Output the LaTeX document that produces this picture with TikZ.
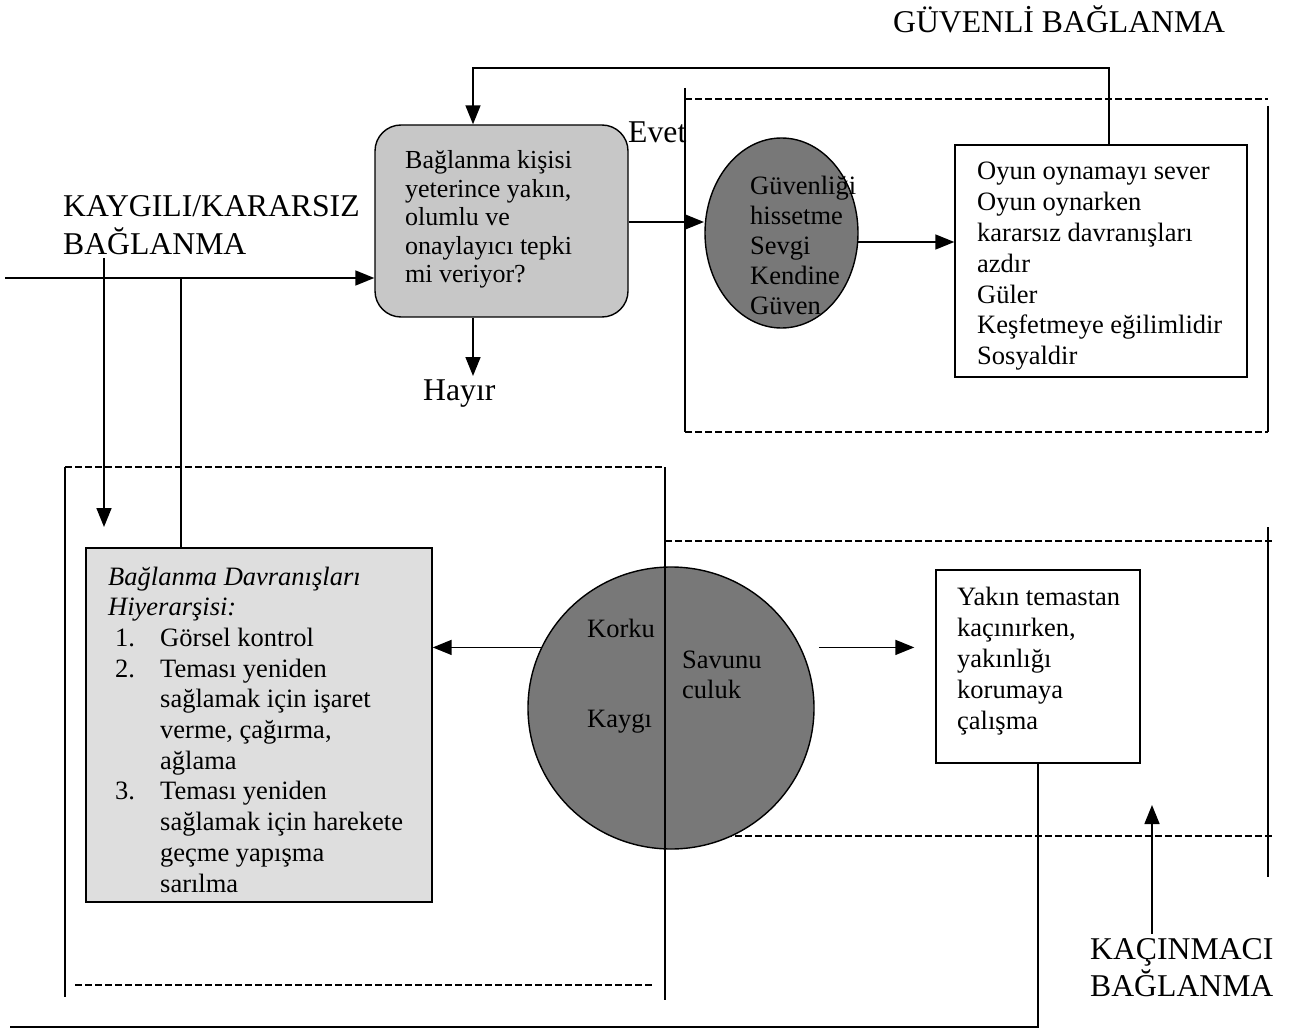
\documentclass[tikz,border=0pt]{standalone}
\usepackage{fontspec}
\setmainfont{Liberation Serif}
\usetikzlibrary{arrows.meta,shapes.geometric}
\definecolor{qfill}{gray}{0.78}
\definecolor{dfill}{gray}{0.87}
\definecolor{darkfill}{gray}{0.47}
\newcommand{\tl}[1]{\begin{tabular}[t]{@{}l@{}}#1\end{tabular}}
\begin{document}
\begin{tikzpicture}[x=1pt,y=-1pt,
  arr/.style={-{Triangle[length=19pt,width=15pt]}, line width=1.6pt},
  dsh/.style={dash pattern=on 7pt off 3pt, line width=1.8pt},
  sol/.style={line width=1.5pt},
  boxw/.style={draw, line width=1.4pt, fill=white, inner sep=0pt},
  lightbox/.style={draw, line width=1.4pt, inner sep=0pt},
  darkell/.style={draw, ellipse, line width=1.4pt, fill=darkfill, inner sep=0pt},
  body/.style={inner sep=0pt, anchor=base west, font=\fontsize{26.5}{30.8}\selectfont},
  lab/.style={inner sep=0pt, anchor=base west, font=\fontsize{31.7}{36}\selectfont},
]
\useasboundingbox (0,0) rectangle (1293,1032);
\fill[white] (0,0) rectangle (1293,1032);

% region frames
\draw[dsh] (685,99) -- (1268,99);
\draw[dsh] (685,432) -- (1268,432);
\draw[sol] (685,88) -- (685,432);
\draw[sol] (1268,106) -- (1268,432);
\draw[dsh] (65,467) -- (663,467);
\draw[dsh] (75,985) -- (655,985);
\draw[sol] (65,467) -- (65,997);
\draw[dsh] (665,541) -- (1275,541);
\draw[dsh] (665,836) -- (1275,836);
\draw[sol] (1268,527) -- (1268,877);

% shapes
\node[lightbox, fill=qfill, rounded corners=26pt, minimum width=253pt, minimum height=192pt] (Q) at (501.5,221) {};
\node[darkell, minimum width=153pt, minimum height=190pt] (E) at (781.5,233) {};
\node[boxw, minimum width=292pt, minimum height=232pt] (O) at (1101,261) {};
\node[lightbox, fill=dfill, minimum width=346pt, minimum height=354pt] (D) at (259,725) {};
\node[darkell, minimum width=286pt, minimum height=282pt] (C) at (671,708) {};
\node[boxw, minimum width=204pt, minimum height=193pt] (Y) at (1038,666.5) {};
\draw[sol] (665,467) -- (665,1000);

% texts
\node[body, font=\fontsize{26}{28.5}\selectfont] (Qt) at (405,169) {\tl{Bağlanma kişisi\\yeterince yakın,\\olumlu ve\\onaylayıcı tepki\\mi veriyor?}};
\node[body, font=\fontsize{26.5}{30}\selectfont] (Et) at (750,195) {\tl{Güvenliği\\hissetme\\Sevgi\\Kendine\\Güven}};
\node[body] (Ot) at (977,180) {\tl{Oyun oynamayı sever\\Oyun oynarken\\kararsız davranışları\\azdır\\Güler\\Keşfetmeye eğilimlidir\\Sosyaldir}};
\node[body, font=\fontsize{26.5}{30.7}\selectfont] (Dt) at (108,585) {\tl{\textit{Bağlanma Davranışları}\\
\textit{Hiyerarşisi:}\\
\hspace*{7pt}\makebox[45pt][l]{1.}Görsel kontrol\\
\hspace*{7pt}\makebox[45pt][l]{2.}Teması yeniden\\
\hspace*{52pt}sağlamak için işaret\\
\hspace*{52pt}verme, çağırma,\\
\hspace*{52pt}ağlama\\
\hspace*{7pt}\makebox[45pt][l]{3.}Teması yeniden\\
\hspace*{52pt}sağlamak için harekete\\
\hspace*{52pt}geçme yapışma\\
\hspace*{52pt}sarılma}};
\node[body] (Ck) at (587,637) {Korku};
\node[body] (Cy) at (587,727) {Kaygı};
\node[body, font=\fontsize{26.5}{30}\selectfont] (Cs) at (682,668) {\tl{Savunu\\culuk}};
\node[body, font=\fontsize{26.5}{31}\selectfont] (Yt) at (957,605) {\tl{Yakın temastan\\kaçınırken,\\yakınlığı\\korumaya\\çalışma}};

\node[lab] (tG) at (893,33) {GÜVENLİ BAĞLANMA};
\node[lab] (tK) at (63,217) {\tl{KAYGILI/KARARSIZ\\BAĞLANMA}};
\node[lab] (tE) at (628,143) {Evet};
\node[lab] (tH) at (423,400) {Hayır};
\node[lab] (tA) at (1090,959) {\tl{KAÇINMACI\\BAĞLANMA}};

% connectors
\coordinate (fbR) at (1109,68);
\coordinate (fbL) at (473,68);
\draw[arr] (fbR |- O.north) -- (fbR) -- (fbL) -- (fbL |- Q.north);
\coordinate (inL) at (5,278);
\draw[arr] (inL) -- (inL -| Q.west);
\coordinate (v1a) at (104,258);
\coordinate (v1b) at (104,527);
\draw[arr] (v1a) -- (v1b);
\coordinate (v2a) at (181,278);
\draw[sol] (v2a) -- (v2a |- D.north);
\coordinate (hy) at (473,376);
\draw[arr] (hy |- Q.south) -- (hy);
\coordinate (qe) at (704,222);
\draw[arr] (qe -| Q.east) -- (qe);
\coordinate (eo) at (858,242);
\draw[arr] (eo) -- (eo -| O.west);
\draw[arr] (C.155) -- (C.155 -| D.east);
\draw[arr, shorten <=18pt, shorten >=21pt] (C.25) -- (C.25 -| Y.west);
\coordinate (bl) at (10,1027);
\draw[line width=1.8pt] (Y.south) |- (bl);
\coordinate (ka) at (1152,805);
\draw[arr] (ka |- tA.north) -- (ka);
\end{tikzpicture}
\end{document}
